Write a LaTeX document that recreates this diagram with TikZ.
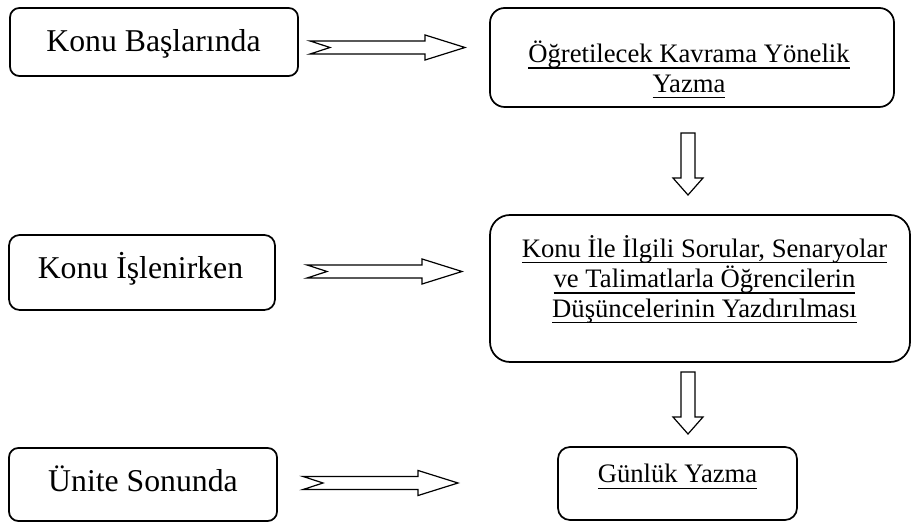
\documentclass[tikz,border=0pt]{standalone}
\usepackage{fontspec}
\setmainfont{Liberation Serif}
\usetikzlibrary{calc}
\newcommand\ulx[1]{\setbox0=\hbox{#1}\rlap{\rule[-4.4pt]{\wd0}{0.9pt}}\box0}
\tikzset{
  box/.style={draw, line width=1.3pt, rounded corners=#1, inner sep=0pt},
  box/.default=7pt,
  lefttext/.style={font=\fontsize{23.8}{26}\selectfont, anchor=base, inner sep=0pt},
  righttext/.style={font=\fontsize{20}{22}\selectfont, anchor=base, inner sep=0pt},
  blockarrow/.style={draw, line width=0.9pt, fill=white, line join=miter},
}
\newcommand\harrowdraw[2]{\draw[blockarrow] let \p1=(#1), \p2=(#2) in
  (\x1,\y1+4.9pt) -- (\x2-30pt,\y1+4.9pt) -- (\x2-30pt,\y1+9.4pt) -- (\x2,\y1)
  -- (\x2-30pt,\y1-9.4pt) -- (\x2-30pt,\y1-4.9pt) -- (\x1,\y1-4.9pt) -- (\x1+15pt,\y1) -- cycle;}
\newcommand\varrowdraw[2]{\draw[blockarrow] let \p1=(#1), \p2=(#2) in
  (\x1-5.25pt,\y1) -- (\x1+5.25pt,\y1) -- (\x1+5.25pt,\y2+12.75pt) -- (\x1+11.25pt,\y2+12.75pt)
  -- (\x1,\y2) -- (\x1-11.25pt,\y2+12.75pt) -- (\x1-5.25pt,\y2+12.75pt) -- cycle;}
\begin{document}
\begin{tikzpicture}[x=0.75pt,y=-0.75pt]
\useasboundingbox (0,0) rectangle (911,523);
% left boxes
\node[box=7pt, minimum width=216pt, minimum height=51pt] (b1) at (154,42) {};
\node[box=8pt, minimum width=199.5pt, minimum height=56.25pt] (b2) at (142,272.5) {};
\node[box=7pt, minimum width=201pt, minimum height=54.75pt] (b3) at (143,484.5) {};
\node[lefttext] (t1) at (153.5,52) {Konu Başlarında};
\node[lefttext] (t2) at (140.5,279) {Konu İşlenirken};
\node[lefttext] (t3) at (143,492) {Ünite Sonunda};
% right boxes
\node[box=11pt, minimum width=303pt, minimum height=74.25pt] (bA) at (692,57.5) {};
\node[box=15pt, minimum width=315pt, minimum height=110.25pt] (bB) at (700,288.5) {};
\node[box=9pt, minimum width=179.25pt, minimum height=54.75pt] (bC) at (677.5,483.5) {};
\node[righttext] (tA) at (689,62.7) {\begin{tabular}[t]{@{}c@{}}\ulx{Öğretilecek Kavrama Yönelik}\\\ulx{Yazma}\end{tabular}};
\node[righttext] (tB) at (704.5,257.3) {\begin{tabular}[t]{@{}c@{}}\ulx{Konu İle İlgili Sorular, Senaryolar}\\\ulx{ve Talimatlarla Öğrencilerin}\\\ulx{Düşüncelerinin Yazdırılması}\end{tabular}};
\node[righttext] (tC) at (677.5,483) {\ulx{Günlük Yazma}};
% arrow end points
\coordinate (h1s) at (310,47.5);
\coordinate (h1e) at (465,47.5);
\coordinate (h2s) at (307,271.5);
\coordinate (h2e) at (462,271.5);
\coordinate (h3s) at (303,483);
\coordinate (h3e) at (458,483);
\coordinate (v1s) at (688,133);
\coordinate (v1e) at (688,195);
\coordinate (v2s) at (688,372);
\coordinate (v2e) at (688,434);
\harrowdraw{h1s}{h1e}
\harrowdraw{h2s}{h2e}
\harrowdraw{h3s}{h3e}
\varrowdraw{v1s}{v1e}
\varrowdraw{v2s}{v2e}
\end{tikzpicture}
\end{document}
